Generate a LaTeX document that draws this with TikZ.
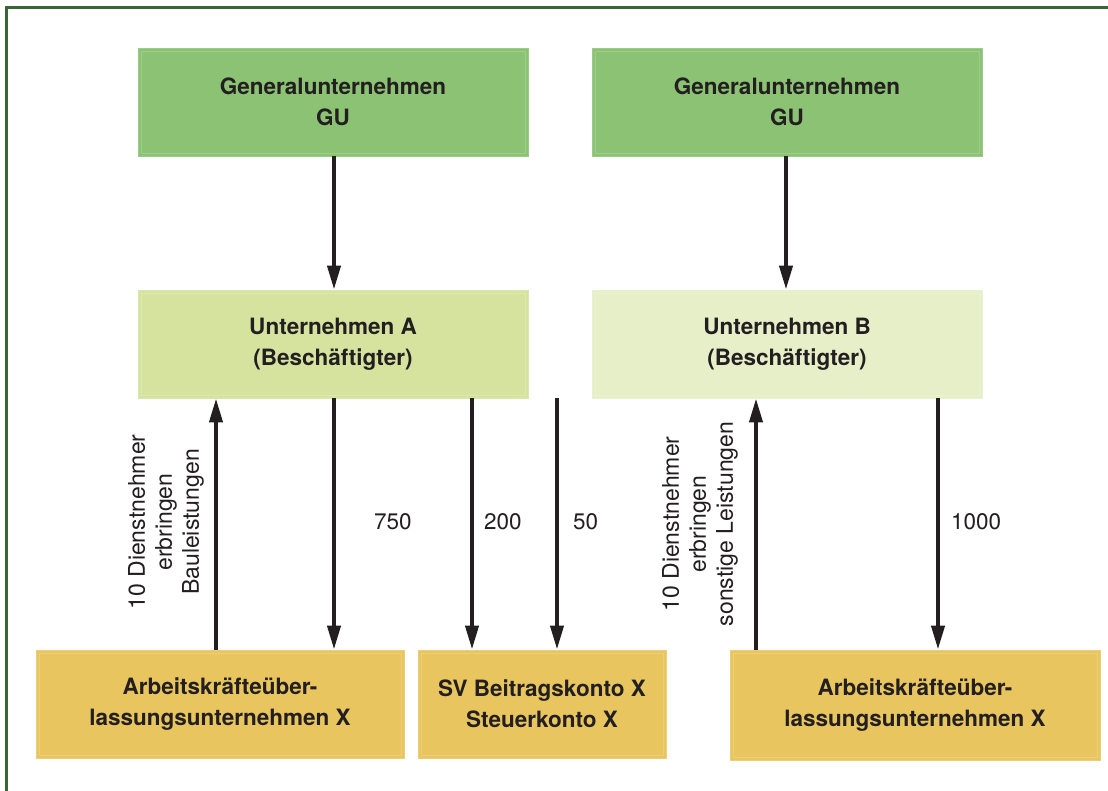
\documentclass[tikz,border=0pt]{standalone}
\usepackage{fontspec}
\setmainfont{TeX Gyre Heros}
\usetikzlibrary{arrows.meta}
\definecolor{gugreen}{HTML}{8BC273}
\definecolor{uagreen}{HTML}{D5E39F}
\definecolor{ubgreen}{HTML}{E6EFC7}
\definecolor{yel}{HTML}{E8C55E}
\definecolor{framecol}{HTML}{3A6535}
\definecolor{txt}{HTML}{231F20}
\begin{document}
\begin{tikzpicture}[x=1pt,y=-1pt,
 box/.style={minimum height=108pt, inner sep=0pt, align=center,
   font=\fontsize{22.5}{31}\selectfont\bfseries, text=txt,
   draw=#1!85!white, line width=0.8pt, fill=#1,
   path picture={\draw[#1!82!white, line width=0.6pt]
     ([shift={(3pt,-3pt)}]path picture bounding box.north west) rectangle
     ([shift={(-3pt,3pt)}]path picture bounding box.south east);}},
 arr/.style={line width=4pt, draw=txt, -{Triangle[length=24pt,width=13pt]}},
 num/.style={font=\fontsize{22.5}{27}\selectfont, text=txt, anchor=west, inner sep=0pt},
 rot/.style={font=\fontsize{23}{27}\selectfont, text=txt, align=center, rotate=90, inner sep=0pt}]
\useasboundingbox (0,0) rectangle (1108,791);
\fill[white] (0,0) rectangle (1108,791);
\draw[framecol, line width=3pt] (6,791) -- (6,8) -- (1108,8);

\node[box=gugreen, minimum width=390pt] (gu1) at (333,102) {Generalunternehmen\\GU};
\node[box=gugreen, minimum width=390pt] (gu2) at (787,102) {Generalunternehmen\\GU};
\node[box=uagreen, minimum width=390pt] (ua) at (333,344) {Unternehmen A\\(Beschäftigter)};
\node[box=ubgreen, minimum width=390pt] (ub) at (787,344) {Unternehmen B\\(Beschäftigter)};
\node[box=yel, minimum width=368pt] (bl) at (220,704) {Arbeitskräfteüber-\\lassungsunternehmen X};
\node[box=yel, minimum width=248pt] (sv) at (542,704) {SV Beitragskonto X\\Steuerkonto X};
\node[box=yel, minimum width=370pt, minimum height=110pt] (br) at (915,705) {Arbeitskräfteüber-\\lassungsunternehmen X};

\draw[arr] ([xshift=1pt]gu1.south) -- ([xshift=1pt]ua.north);
\draw[arr] ([xshift=-1pt]gu2.south) -- ([xshift=-1pt]ub.north);

\draw[arr] ([xshift=-4pt]bl.north) -- ([xshift=-117pt]ua.south);
\draw[arr] ([xshift=1pt]ua.south) -- ([xshift=114pt]bl.north);
\draw[arr] ([xshift=139pt]ua.south) -- ([xshift=-70pt]sv.north);
\coordinate (c50) at ([xshift=15pt]sv.north);
\draw[arr] (c50 |- ua.south) -- (c50);

\draw[arr] ([xshift=-159pt]br.north) -- ([xshift=-31pt]ub.south);
\draw[arr] ([xshift=151pt]ub.south) -- ([xshift=23pt]br.north);

\node[num] (n750) at (374,522) {750};
\node[num] (n200) at (484,522) {200};
\node[num] (n50) at (573,522) {50};
\node[num] (n1000) at (951,522) {1000};

\node[rot] (tl) at (166,522) {10 Dienstnehmer\\erbringen\\Bauleistungen};
\node[rot] (tr) at (700,524) {10 Dienstnehmer\\erbringen\\sonstige Leistungen};
\end{tikzpicture}
\end{document}
